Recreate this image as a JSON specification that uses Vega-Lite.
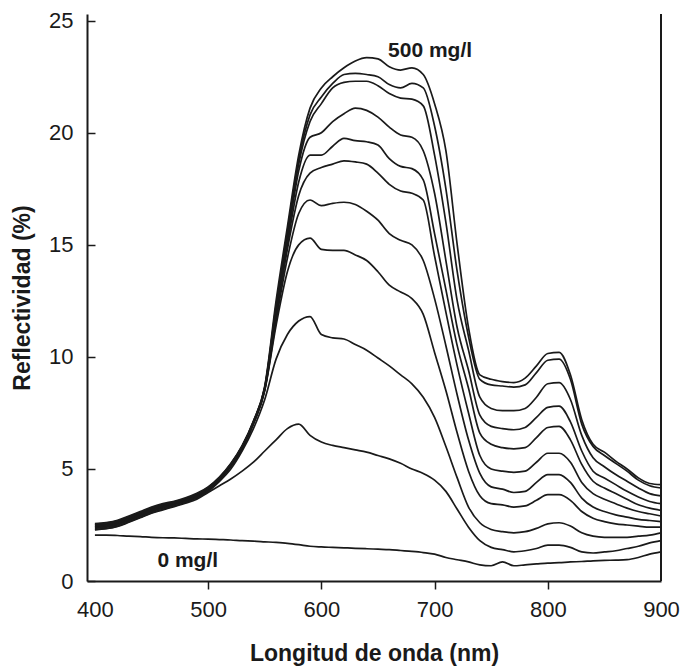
{
  "$schema": "https://vega.github.io/schema/vega-lite/v6.json",
  "width": 574,
  "height": 567,
  "autosize": "none",
  "padding": {"left": 87, "top": 14, "right": 19, "bottom": 88},
  "config": {"view": {"stroke": null}, "font": "Liberation Sans"},
  "datasets": {
    "spectra": [
      {"w":400,"c0":2.05,"c1":2.28,"c2":2.3,"c3":2.35,"c4":2.38,"c5":2.42,"c6":2.44,"c7":2.47,"c8":2.5,"c9":2.53,"c10":2.56},
      {"w":410,"c0":2.05,"c1":2.33,"c2":2.35,"c3":2.4,"c4":2.43,"c5":2.47,"c6":2.49,"c7":2.52,"c8":2.55,"c9":2.58,"c10":2.61},
      {"w":420,"c0":2.03,"c1":2.43,"c2":2.45,"c3":2.5,"c4":2.53,"c5":2.57,"c6":2.59,"c7":2.62,"c8":2.65,"c9":2.68,"c10":2.71},
      {"w":430,"c0":2.0,"c1":2.62,"c2":2.65,"c3":2.7,"c4":2.73,"c5":2.76,"c6":2.78,"c7":2.81,"c8":2.84,"c9":2.87,"c10":2.9},
      {"w":440,"c0":1.98,"c1":2.82,"c2":2.85,"c3":2.9,"c4":2.93,"c5":2.96,"c6":2.98,"c7":3.01,"c8":3.04,"c9":3.07,"c10":3.1},
      {"w":450,"c0":1.95,"c1":3.02,"c2":3.05,"c3":3.1,"c4":3.13,"c5":3.16,"c6":3.18,"c7":3.21,"c8":3.24,"c9":3.27,"c10":3.3},
      {"w":460,"c0":1.93,"c1":3.17,"c2":3.2,"c3":3.25,"c4":3.28,"c5":3.31,"c6":3.33,"c7":3.36,"c8":3.39,"c9":3.42,"c10":3.45},
      {"w":470,"c0":1.92,"c1":3.32,"c2":3.35,"c3":3.4,"c4":3.42,"c5":3.44,"c6":3.46,"c7":3.48,"c8":3.5,"c9":3.53,"c10":3.56},
      {"w":480,"c0":1.9,"c1":3.47,"c2":3.5,"c3":3.55,"c4":3.57,"c5":3.59,"c6":3.61,"c7":3.63,"c8":3.65,"c9":3.68,"c10":3.71},
      {"w":490,"c0":1.88,"c1":3.65,"c2":3.7,"c3":3.75,"c4":3.77,"c5":3.79,"c6":3.81,"c7":3.83,"c8":3.85,"c9":3.88,"c10":3.91},
      {"w":500,"c0":1.87,"c1":3.95,"c2":4.0,"c3":4.05,"c4":4.07,"c5":4.09,"c6":4.11,"c7":4.13,"c8":4.15,"c9":4.18,"c10":4.2},
      {"w":510,"c0":1.85,"c1":4.25,"c2":4.45,"c3":4.5,"c4":4.52,"c5":4.54,"c6":4.56,"c7":4.58,"c8":4.6,"c9":4.62,"c10":4.64},
      {"w":520,"c0":1.83,"c1":4.55,"c2":5.0,"c3":5.1,"c4":5.12,"c5":5.14,"c6":5.16,"c7":5.18,"c8":5.2,"c9":5.22,"c10":5.24},
      {"w":530,"c0":1.8,"c1":4.9,"c2":5.8,"c3":5.9,"c4":5.92,"c5":5.94,"c6":5.96,"c7":5.98,"c8":6.0,"c9":6.02,"c10":6.04},
      {"w":540,"c0":1.78,"c1":5.3,"c2":6.8,"c3":7.0,"c4":7.02,"c5":7.04,"c6":7.06,"c7":7.08,"c8":7.1,"c9":7.12,"c10":7.14},
      {"w":550,"c0":1.75,"c1":5.8,"c2":8.1,"c3":8.5,"c4":8.52,"c5":8.55,"c6":8.57,"c7":8.6,"c8":8.62,"c9":8.65,"c10":8.7},
      {"w":560,"c0":1.72,"c1":6.3,"c2":9.9,"c3":11.4,"c4":11.6,"c5":11.8,"c6":11.9,"c7":12.0,"c8":12.2,"c9":12.3,"c10":12.5},
      {"w":570,"c0":1.68,"c1":6.8,"c2":11.0,"c3":13.8,"c4":14.4,"c5":14.8,"c6":15.0,"c7":15.2,"c8":15.4,"c9":15.6,"c10":15.8},
      {"w":580,"c0":1.62,"c1":7.0,"c2":11.6,"c3":15.0,"c4":16.4,"c5":17.2,"c6":17.8,"c7":18.3,"c8":18.6,"c9":18.8,"c10":19.0},
      {"w":590,"c0":1.55,"c1":6.5,"c2":11.8,"c3":15.3,"c4":17.0,"c5":18.2,"c6":19.0,"c7":19.8,"c8":20.5,"c9":20.8,"c10":21.1},
      {"w":600,"c0":1.52,"c1":6.2,"c2":11.0,"c3":14.8,"c4":16.75,"c5":18.45,"c6":19.0,"c7":20.0,"c8":21.3,"c9":21.6,"c10":22.0},
      {"w":610,"c0":1.5,"c1":6.05,"c2":10.85,"c3":14.75,"c4":16.85,"c5":18.6,"c6":19.4,"c7":20.5,"c8":22.0,"c9":22.2,"c10":22.5},
      {"w":620,"c0":1.48,"c1":5.95,"c2":10.8,"c3":14.75,"c4":16.9,"c5":18.75,"c6":19.75,"c7":20.85,"c8":22.25,"c9":22.6,"c10":22.9},
      {"w":630,"c0":1.46,"c1":5.85,"c2":10.55,"c3":14.55,"c4":16.8,"c5":18.7,"c6":19.65,"c7":21.1,"c8":22.3,"c9":22.65,"c10":23.2},
      {"w":640,"c0":1.44,"c1":5.75,"c2":10.3,"c3":14.3,"c4":16.5,"c5":18.6,"c6":19.6,"c7":21.0,"c8":22.3,"c9":22.6,"c10":23.35},
      {"w":650,"c0":1.42,"c1":5.6,"c2":9.95,"c3":13.8,"c4":16.1,"c5":18.2,"c6":19.45,"c7":20.7,"c8":22.1,"c9":22.5,"c10":23.3},
      {"w":660,"c0":1.4,"c1":5.45,"c2":9.6,"c3":13.2,"c4":15.5,"c5":17.7,"c6":18.85,"c7":20.25,"c8":21.75,"c9":22.15,"c10":22.95},
      {"w":670,"c0":1.36,"c1":5.25,"c2":9.2,"c3":12.9,"c4":15.2,"c5":17.4,"c6":18.5,"c7":19.9,"c8":21.55,"c9":22.0,"c10":22.8},
      {"w":680,"c0":1.32,"c1":5.0,"c2":8.8,"c3":12.6,"c4":15.0,"c5":17.3,"c6":18.4,"c7":19.8,"c8":21.5,"c9":22.2,"c10":22.9},
      {"w":690,"c0":1.27,"c1":4.8,"c2":8.2,"c3":11.9,"c4":14.3,"c5":17.0,"c6":17.9,"c7":19.2,"c8":21.2,"c9":22.0,"c10":22.6},
      {"w":700,"c0":1.2,"c1":4.5,"c2":7.3,"c3":10.2,"c4":12.6,"c5":14.5,"c6":15.5,"c7":17.3,"c8":19.0,"c9":20.3,"c10":21.3},
      {"w":710,"c0":1.05,"c1":4.0,"c2":6.0,"c3":8.5,"c4":10.5,"c5":12.0,"c6":13.0,"c7":14.3,"c8":16.0,"c9":17.5,"c10":19.2},
      {"w":720,"c0":0.95,"c1":3.2,"c2":4.6,"c3":6.6,"c4":8.3,"c5":9.6,"c6":10.5,"c7":11.3,"c8":12.5,"c9":13.8,"c10":15.0},
      {"w":730,"c0":0.85,"c1":2.4,"c2":3.3,"c3":4.9,"c4":6.3,"c5":7.5,"c6":8.6,"c7":9.4,"c8":10.3,"c9":10.9,"c10":11.3},
      {"w":740,"c0":0.72,"c1":1.8,"c2":2.6,"c3":3.8,"c4":4.8,"c5":5.6,"c6":6.6,"c7":7.4,"c8":8.2,"c9":9.0,"c10":9.2},
      {"w":750,"c0":0.68,"c1":1.5,"c2":2.3,"c3":3.45,"c4":4.2,"c5":5.0,"c6":6.1,"c7":6.9,"c8":7.7,"c9":8.75,"c10":9.0},
      {"w":760,"c0":0.85,"c1":1.4,"c2":2.2,"c3":3.4,"c4":4.1,"c5":4.9,"c6":5.95,"c7":6.8,"c8":7.6,"c9":8.7,"c10":8.9},
      {"w":770,"c0":0.68,"c1":1.3,"c2":2.15,"c3":3.3,"c4":3.95,"c5":4.85,"c6":5.9,"c7":6.75,"c8":7.6,"c9":8.65,"c10":8.85},
      {"w":780,"c0":0.72,"c1":1.35,"c2":2.2,"c3":3.35,"c4":4.0,"c5":4.9,"c6":5.95,"c7":6.85,"c8":7.7,"c9":8.75,"c10":9.05},
      {"w":790,"c0":0.76,"c1":1.45,"c2":2.35,"c3":3.6,"c4":4.4,"c5":5.3,"c6":6.4,"c7":7.3,"c8":8.2,"c9":9.3,"c10":9.6},
      {"w":800,"c0":0.8,"c1":1.6,"c2":2.55,"c3":3.85,"c4":4.75,"c5":5.7,"c6":6.85,"c7":7.75,"c8":8.8,"c9":9.85,"c10":10.15},
      {"w":810,"c0":0.82,"c1":1.6,"c2":2.6,"c3":3.85,"c4":4.75,"c5":5.7,"c6":6.9,"c7":7.8,"c8":8.85,"c9":9.9,"c10":10.2},
      {"w":820,"c0":0.85,"c1":1.5,"c2":2.45,"c3":3.6,"c4":4.4,"c5":5.3,"c6":6.3,"c7":7.1,"c8":8.1,"c9":9.0,"c10":9.2},
      {"w":830,"c0":0.87,"c1":1.3,"c2":2.15,"c3":3.1,"c4":3.7,"c5":4.4,"c6":5.2,"c7":5.8,"c8":6.5,"c9":7.0,"c10":7.2},
      {"w":840,"c0":0.9,"c1":1.25,"c2":2.0,"c3":2.8,"c4":3.3,"c5":3.9,"c6":4.45,"c7":4.9,"c8":5.5,"c9":6.0,"c10":6.1},
      {"w":850,"c0":0.92,"c1":1.3,"c2":1.95,"c3":2.65,"c4":3.1,"c5":3.65,"c6":4.15,"c7":4.6,"c8":5.1,"c9":5.6,"c10":5.75},
      {"w":860,"c0":0.93,"c1":1.35,"c2":1.95,"c3":2.55,"c4":2.95,"c5":3.45,"c6":3.9,"c7":4.3,"c8":4.75,"c9":5.25,"c10":5.35},
      {"w":870,"c0":0.95,"c1":1.45,"c2":1.95,"c3":2.5,"c4":2.85,"c5":3.25,"c6":3.65,"c7":4.0,"c8":4.45,"c9":4.9,"c10":5.0},
      {"w":880,"c0":1.05,"c1":1.55,"c2":2.0,"c3":2.45,"c4":2.75,"c5":3.1,"c6":3.4,"c7":3.75,"c8":4.15,"c9":4.5,"c10":4.6},
      {"w":890,"c0":1.2,"c1":1.7,"c2":2.05,"c3":2.4,"c4":2.7,"c5":3.0,"c6":3.25,"c7":3.55,"c8":3.9,"c9":4.25,"c10":4.35},
      {"w":900,"c0":1.3,"c1":1.8,"c2":2.15,"c3":2.4,"c4":2.65,"c5":2.9,"c6":3.15,"c7":3.45,"c8":3.8,"c9":4.15,"c10":4.3}
    ],
    "labels": [
      {"w": 696, "r": 23.39, "t": "500 mg/l"},
      {"w": 482, "r": 0.64, "t": "0 mg/l"}
    ]
  },
  "layer": [
    {
      "data": {"name": "spectra"},
      "transform": [{"fold": ["c0","c1","c2","c3","c4","c5","c6","c7","c8","c9","c10"], "as": ["curve", "r"]}],
      "mark": {"type": "line", "color": "#1a1a1a", "strokeWidth": 1.7, "strokeJoin": "round", "interpolate": "monotone"},
      "encoding": {
        "x": {
          "field": "w", "type": "quantitative",
          "scale": {"domain": [393, 900], "nice": false, "zero": false},
          "axis": {
            "values": [400, 500, 600, 700, 800, 900],
            "title": "Longitud de onda (nm)",
            "grid": false,
            "tickSize": 8,
            "tickWidth": 1.5,
            "tickColor": {"condition": {"test": "datum.value == 400 || datum.value == 900", "value": "transparent"}, "value": "#1a1a1a"},
            "domainColor": "#1a1a1a",
            "domainWidth": 2,
            "labelFontSize": 22,
            "labelColor": "#1a1a1a",
            "labelPadding": 10,
            "labelFlush": false,
            "labelOverlap": false,
            "titleFontSize": 23,
            "titleFontWeight": "bold",
            "titleColor": "#1a1a1a",
            "titlePadding": 22
          }
        },
        "y": {
          "field": "r", "type": "quantitative",
          "scale": {"domain": [0, 25.3], "nice": false},
          "axis": {
            "values": [0, 5, 10, 15, 20, 25],
            "title": "Reflectividad (%)",
            "grid": false,
            "tickSize": -8,
            "tickWidth": 1.5,
            "tickColor": "#1a1a1a",
            "domainColor": "#1a1a1a",
            "domainWidth": 2,
            "labelFontSize": 22,
            "labelColor": "#1a1a1a",
            "labelPadding": 22,
            "labelFlush": false,
            "labelOverlap": false,
            "titleFontSize": 23,
            "titleFontWeight": "bold",
            "titleColor": "#1a1a1a",
            "titlePadding": 14
          }
        },
        "detail": {"field": "curve"}
      }
    },
    {
      "data": {"values": [{}]},
      "mark": {"type": "rule", "color": "#1a1a1a", "strokeWidth": 2},
      "encoding": {"x": {"datum": 900}}
    },
    {
      "data": {"name": "labels"},
      "mark": {"type": "text", "fontWeight": "bold", "fontSize": 21, "baseline": "alphabetic", "align": "center", "color": "#1a1a1a"},
      "encoding": {
        "x": {"field": "w", "type": "quantitative"},
        "y": {"field": "r", "type": "quantitative"},
        "text": {"field": "t"}
      }
    }
  ]
}
